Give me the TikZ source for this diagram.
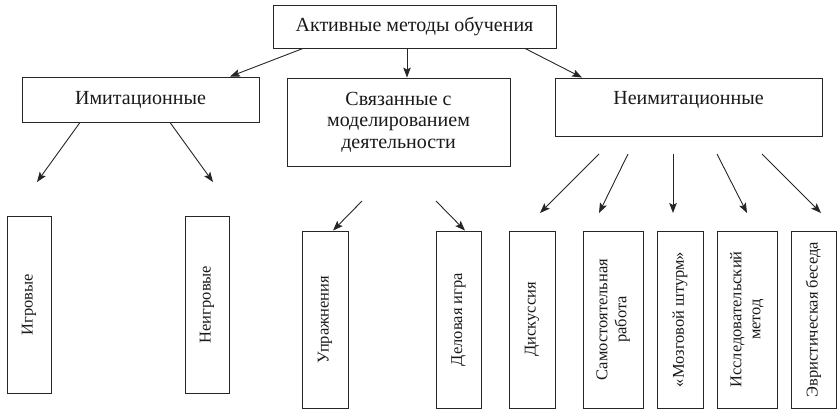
\documentclass[tikz,border=0pt]{standalone}
\usepackage{fontspec}
\usepackage{graphicx}
\setmainfont{Liberation Serif}
\usetikzlibrary{arrows.meta}
\begin{document}
\begin{tikzpicture}[x=1pt,y=-1pt,
  box/.style={draw=black!85, line width=0.9pt, inner sep=0pt, rectangle, text=black!90},
  top/.style={box, font=\fontsize{20}{21.5}\selectfont, align=center},
  low/.style={box, font=\fontsize{16.5}{19}\selectfont, minimum height=177pt},
  arr/.style={draw=black!85, line width=0.9pt, -{Stealth[length=10pt,width=7.5pt,inset=2pt]}}
]
\useasboundingbox (0,0) rectangle (840,415);

% top level
\node[top, minimum width=283pt, minimum height=43pt] (A) at (414.5,26.5) {Активные методы обучения};

% second level
\node[top, minimum width=237pt, minimum height=45pt] (im) at (140.5,99.5) {Имитационные};
\node[top, minimum width=223pt, minimum height=88pt] (sv) at (398.5,122) {Связанные с\\моделированием\\деятельности};
\node[box, minimum width=267pt, minimum height=58pt] (ne) at (688.5,107) {};
\node[font=\fontsize{20}{21.5}\selectfont, inner sep=0pt, text=black!90] (net) at (688.5,100) {Неимитационные};

% bottom level
\node[low, minimum width=44pt] (igr) at (29,304.5) {\rotatebox{90}{Игровые}};
\node[low, minimum width=44pt] (nigr) at (207,304.5) {\rotatebox{90}{Неигровые}};
\node[low, minimum width=46pt] (upr) at (325,319.5) {\rotatebox{90}{Упражнения}};
\node[low, minimum width=45pt] (del) at (458.5,319.5) {\rotatebox{90}{Деловая игра}};
\node[low, minimum width=46pt] (dis) at (532,319.5) {\rotatebox{90}{Дискуссия}};
\node[low, minimum width=60pt] (sam) at (613,319.5) {\rotatebox{90}{\begin{tabular}{@{}c@{}}Самостоятельная\\работа\end{tabular}}};
\node[low, minimum width=46pt] (moz) at (680,319.5) {\rotatebox{90}{«Мозговой штурм»}};
\node[low, minimum width=60pt] (iss) at (747,319.5) {\rotatebox{90}{\begin{tabular}{@{}c@{}}Исследовательский\\метод\end{tabular}}};
\node[low, minimum width=45pt] (evr) at (813.5,319.5) {\rotatebox{90}{Эвристическая беседа}};

% free ends
\coordinate (e1) at (37,182);
\coordinate (e2) at (213,182);
\coordinate (s1) at (362,201);
\coordinate (s2) at (436,201);
\coordinate (n1) at (599,154);
\coordinate (n2) at (628,154);
\coordinate (n3) at (673,154);
\coordinate (n4) at (717,154);
\coordinate (n5) at (762,154);
\coordinate (m1) at (540,213);
\coordinate (m2) at (599,213);
\coordinate (m3) at (673,213);
\coordinate (m4) at (747,213);
\coordinate (m5) at (821,213);

% connectors
\draw[arr] ([xshift=-111.5pt]A.south) -- ([xshift=89.5pt]im.north);
\draw[arr] ([xshift=-7.5pt]A.south) -- ([xshift=-7.5pt]A.south |- sv.north);
\draw[arr] ([xshift=110.5pt]A.south) -- ([xshift=-106.5pt]ne.north);

\draw[arr] ([xshift=-60.5pt]im.south) -- (e1);
\draw[arr] ([xshift=29.5pt]im.south) -- (e2);

\draw[arr] (s1) -- ([xshift=8pt]upr.north);
\draw[arr] (s2) -- ([xshift=6.5pt]del.north);

\draw[arr] (n1) -- (m1);
\draw[arr] (n2) -- (m2);
\draw[arr] (n3) -- (m3);
\draw[arr] (n4) -- (m4);
\draw[arr] (n5) -- (m5);
\end{tikzpicture}
\end{document}
